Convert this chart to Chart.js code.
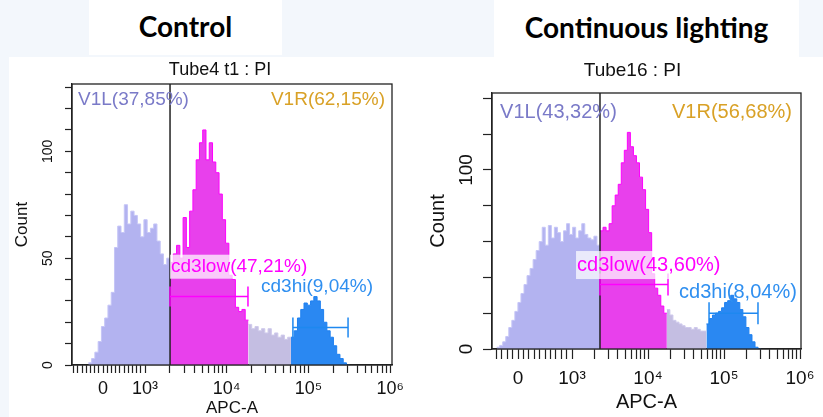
<!DOCTYPE html>
<html>
<head>
<meta charset="utf-8">
<script src="https://cdn.jsdelivr.net/npm/chart.js@4.4.1/dist/chart.umd.min.js"></script>
<style>
  body { margin: 0; width: 823px; height: 417px; background: #f3f7fc; position: relative; overflow: hidden; }
  .fundo { position: absolute; left: 9px; top: 57px; width: 814px; height: 360px; background: #fff; }
  .titulo { position: absolute; top: 0; background: #fff; font-family: Lato, "Open Sans", sans-serif;
            font-weight: bold; font-size: 28px; color: #000; text-align: center; }
  .grafico { position: absolute; }
</style>
</head>
<body>
<div class="fundo"></div>
<div class="titulo" style="left:89px; width:193px; height:55px; line-height:52px">Control</div>
<div class="titulo" style="left:494px; width:305px; height:57px; line-height:54px">Continuous lighting</div>
<canvas id="g1" class="grafico" width="420" height="360" style="left:0; top:57px"></canvas>
<canvas id="g2" class="grafico" width="403" height="355" style="left:420px; top:57px"></canvas>

<script>
/*
   Dois histogramas (APC-A, escala logicle)
   eixo x em "decadas": 3 = 10^3, 4 = 10^4 ...
*/

//*************  Dados  ****************/
const bin_w = 0.04
const x_tick_labels = ["0", "10³", "10⁴", "10⁵", "10⁶"]

// Control - Tube4 t1
const ctl_start = 2.306
const ctl_v1l = [1, 3, 6, 11, 18, 22, 28, 34, 55, 65, 62, 75, 66, 72, 70, 66, 60, 68, 62, 64, 66, 58, 52, 47, 50]
const ctl_low = [48, 52, 56, 50, 69, 55, 72, 82, 96, 104, 110, 96, 104, 95, 90, 80, 68, 57, 42, 40, 27, 25, 26, 21]
const ctl_mid = [19, 17, 18, 16, 17, 15, 17, 14, 15, 13, 14, 12, 13]
const ctl_hi = [13, 16, 22, 26, 29, 28, 30, 32, 30, 26, 20, 16, 13, 9, 5, 3, 1, 0]
const ctl_x_ticks = [2.486, 3, 4, 5, 6]
const ctl_gate = 3.306
const ctl_low_bar = [3.306, 4.26, 32]
const ctl_hi_bar = [4.81, 5.485, 17.5]
const ctl_texts = ["V1L(37,85%)", "V1R(62,15%)", "cd3low(47,21%)", "cd3hi(9,04%)"]

// Continuous lighting - Tube16
const cl_start = 2.008
const cl_v1l = [1, 2, 4, 7, 12, 16, 21, 26, 31, 36, 41, 45, 50, 55, 60, 68, 58, 69, 62, 68, 65, 60, 66, 70, 64, 68, 62, 66, 70, 64, 62, 61, 63, 58]
const cl_low = [66, 68, 66, 70, 80, 86, 92, 104, 111, 121, 113, 108, 104, 96, 89, 78, 65, 42, 34, 30, 24, 20]
const cl_mid = [22, 19, 16, 15, 14, 13, 12, 12, 11, 12, 11, 10, 10]
const cl_hi = [14, 17, 19, 20, 21, 23, 26, 27, 30, 28, 26, 22, 18, 12, 8, 4, 1, 0]
const cl_x_ticks = [2.29, 3, 4, 5, 6]
const cl_gate = 3.368
const cl_low_bar = [3.368, 4.263, 36]
const cl_hi_bar = [4.803, 5.447, 20]
const cl_texts = ["V1L(43,32%)", "V1R(56,68%)", "cd3low(43,60%)", "cd3hi(8,04%)"]

// cores das populacoes: V1L, cd3low, resto do V1R, cd3hi
const cores_fill = ["#b3b3f0", "#e840ec", "#c4bee2", "#2a88f2"]
const cores_borda = ["#c6c6f7", "#ff00ff", "#cfcaec", "#1f80f0"]
const cores_texto = ["#7a7ac8", "#d9a126", "#ff00ff", "#2f8ff0"]

const fam = "'Liberation Sans', Arial, sans-serif"
Chart.defaults.font.family = fam
Chart.defaults.color = "#111"


//*************  Plugin: gate, barras, textos, moldura  ****************/
const extras = {
    id: "extras",
    afterDatasetsDraw(chart, args, o){
        const ctx = chart.ctx
        const a = chart.chartArea
        const x = chart.scales.x, y = chart.scales.y
        ctx.save()

        // linha V1
        let gx = x.getPixelForValue(o.gate)
        ctx.strokeStyle = "#222"
        ctx.lineWidth = 1.5
        ctx.beginPath(); ctx.moveTo(gx, a.top); ctx.lineTo(gx, a.bottom); ctx.stroke()

        // barras dos sub-gates (cd3low, cd3hi)
        for(let b of o.bars){
            let x1 = x.getPixelForValue(b.range[0])
            let x2 = x.getPixelForValue(b.range[1])
            let yy = y.getPixelForValue(b.range[2])
            ctx.strokeStyle = b.color
            ctx.lineWidth = 1.5
            ctx.beginPath()
            ctx.moveTo(x1, yy); ctx.lineTo(x2, yy)
            ctx.moveTo(x1, yy - o.cap); ctx.lineTo(x1, yy + o.cap)
            ctx.moveTo(x2, yy - o.cap); ctx.lineTo(x2, yy + o.cap)
            ctx.stroke()
        }

        // moldura
        ctx.strokeStyle = "#222"
        ctx.lineWidth = 1.3
        ctx.strokeRect(a.left, a.top, a.right - a.left, a.bottom - a.top)

        // textos dos gates
        ctx.font = o.font + "px " + fam
        ctx.textBaseline = "middle"
        for(let t of o.labels){
            let px = x.getPixelForValue(t.at[0])
            let py = y.getPixelForValue(t.at[1])
            ctx.textAlign = t.align
            if(t.box){
                let w = ctx.measureText(t.text).width
                ctx.fillStyle = "rgba(255,255,255,0.72)"
                ctx.fillRect(px - 1, py - o.boxH / 2, w + 2, o.boxH)
            }
            ctx.fillStyle = t.color
            ctx.fillText(t.text, px, py)
        }

        // titulo (Tube..)
        ctx.fillStyle = "#111"
        ctx.font = o.titleFont + "px " + fam
        ctx.textAlign = "center"
        ctx.fillText(o.title, (a.left + a.right) / 2 + o.titleDx, a.top - o.titleDy)
        ctx.restore()
    }
}


//*************  Funcoes  ****************/
// um pedaco do histograma (uma populacao) como linha em degraus
function segmento(start, values, fill, borda, ordem){
    let pts = values.map((v, i) => ({x: start + i * bin_w, y: v}))
    pts.push({x: start + values.length * bin_w, y: values[values.length - 1]})
    return {
        data: pts, stepped: true, fill: "origin",
        backgroundColor: fill, borderColor: borda, borderWidth: 1,
        pointRadius: 0, order: ordem
    }
}

// ticks do eixo x: parte linear perto do 0 + minor ticks log
function ticks_x(majors, min){
    let out = []
    let zero = majors[0]
    let passo = (3 - zero) / 10
    for(let j = -10; j < 10; j++){
        let v = zero + j * passo
        if(v >= min) out.push(v)
    }
    out.push(3)
    for(let d = 3; d < 6; d++){
        for(let k = 2; k < 10; k++) out.push(d + Math.log10(k))
        out.push(d + 1)
    }
    return out
}

function desenhaGrafico(c){
    // datasets
    let datasets = []
    let s = c.start
    for(let i = 0; i < c.segs.length; i++){
        datasets.push(segmento(s, c.segs[i], cores_fill[i], cores_borda[i], i == 0 ? 5 : 1))
        s += c.segs[i].length * bin_w
    }

    let todos_ticks = ticks_x(c.majors, c.xmin)

    new Chart(document.getElementById(c.el), {
        type: "line",
        data: { datasets: datasets },
        plugins: [extras],
        options: {
            responsive: false,
            animation: false,
            events: [],
            layout: { padding: c.pad },
            plugins: {
                legend: { display: false },
                tooltip: { enabled: false },
                extras: {
                    gate: c.gate,
                    bars: [
                        { range: c.lowBar, color: "#ff00ff" },
                        { range: c.hiBar, color: "#1e88f0" }
                    ],
                    cap: c.cap, boxH: c.boxH, font: c.fs.lab,
                    title: c.title, titleFont: c.fs.title, titleDx: c.titleDx, titleDy: c.titleDy,
                    labels: [
                        { text: c.texts[0], at: c.pos[0], align: "left", color: cores_texto[0] },
                        { text: c.texts[1], at: c.pos[1], align: "right", color: cores_texto[1] },
                        { text: c.texts[2], at: c.pos[2], align: "left", color: cores_texto[2], box: true },
                        { text: c.texts[3], at: c.pos[3], align: "left", color: cores_texto[3] }
                    ]
                }
            },
            scales: {
                x: {
                    type: "linear",
                    min: c.xmin, max: c.xmax,
                    afterFit: sc => { sc.height = c.xh },
                    afterBuildTicks: sc => { sc.ticks = todos_ticks.map(v => ({ value: v })) },
                    border: { color: "#222", width: 1.3 },
                    grid: { drawOnChartArea: false, tickLength: c.xtl, tickColor: "#222", tickWidth: 1.2 },
                    ticks: {
                        autoSkip: false, maxRotation: 0, padding: c.xpad, color: "#111",
                        font: { size: c.fs.xt },
                        callback: v => {
                            let i = c.majors.findIndex(m => Math.abs(m - v) < 1e-6)
                            return i >= 0 ? x_tick_labels[i] : ""
                        }
                    },
                    title: { display: true, text: "APC-A", color: "#111", padding: 0,
                             font: { size: c.fs.axis, lineHeight: 1 } }
                },
                y: {
                    min: 0, max: c.ymax,
                    afterFit: sc => { sc.width = c.yw },
                    border: { color: "#222", width: 1.3 },
                    grid: { drawOnChartArea: false, tickLength: c.ytl, tickColor: "#222", tickWidth: 1.2 },
                    ticks: {
                        stepSize: c.ystep, includeBounds: false, autoSkip: false,
                        minRotation: 90, maxRotation: 90, crossAlign: "center",
                        padding: c.ypad, color: "#111", font: { size: c.fs.yt },
                        callback: v => c.ylabels.includes(v) ? String(v) : ""
                    },
                    title: { display: true, text: "Count", color: "#111", padding: 0,
                             font: { size: c.fs.axis, lineHeight: 1 } }
                }
            }
        }
    })
}


//*************  Graficos  ****************/
desenhaGrafico({
    el: "g1", start: ctl_start, segs: [ctl_v1l, ctl_low, ctl_mid, ctl_hi],
    xmin: 2.106, xmax: 6.023, majors: ctl_x_ticks,
    ymax: 131.5, ystep: 10, ylabels: [0, 50, 100],
    gate: ctl_gate, lowBar: ctl_low_bar, hiBar: ctl_hi_bar,
    title: "Tube4 t1 : PI", texts: ctl_texts,
    pos: [[2.18, 124], [5.937, 124], [3.318, 46], [4.42, 36.6]],
    pad: { left: 14, right: 28, top: 27, bottom: 0 }, yw: 58, xh: 52,
    fs: { title: 18, lab: 19, xt: 18, yt: 14, axis: 17 },
    ytl: 7, xtl: 8, ypad: 5, xpad: 5,
    cap: 10, boxH: 24, titleDx: -12, titleDy: 14
})

desenhaGrafico({
    el: "g2", start: cl_start, segs: [cl_v1l, cl_low, cl_mid, cl_hi],
    xmin: 1.947, xmax: 6.013, majors: cl_x_ticks,
    ymax: 143, ystep: 20, ylabels: [0, 100],
    gate: cl_gate, lowBar: cl_low_bar, hiBar: cl_hi_bar,
    title: "Tube16 : PI", texts: cl_texts,
    pos: [[2.053, 132], [5.895, 132], [3.066, 46.9], [4.408, 31.8]],
    pad: { left: 8, right: 22, top: 36, bottom: 0 }, yw: 64, xh: 63,
    fs: { title: 19, lab: 20, xt: 19, yt: 19, axis: 20 },
    ytl: 9, xtl: 10, ypad: 0, xpad: 8,
    cap: 11, boxH: 28, titleDx: -14, titleDy: 22
})
</script>
</body>
</html>
